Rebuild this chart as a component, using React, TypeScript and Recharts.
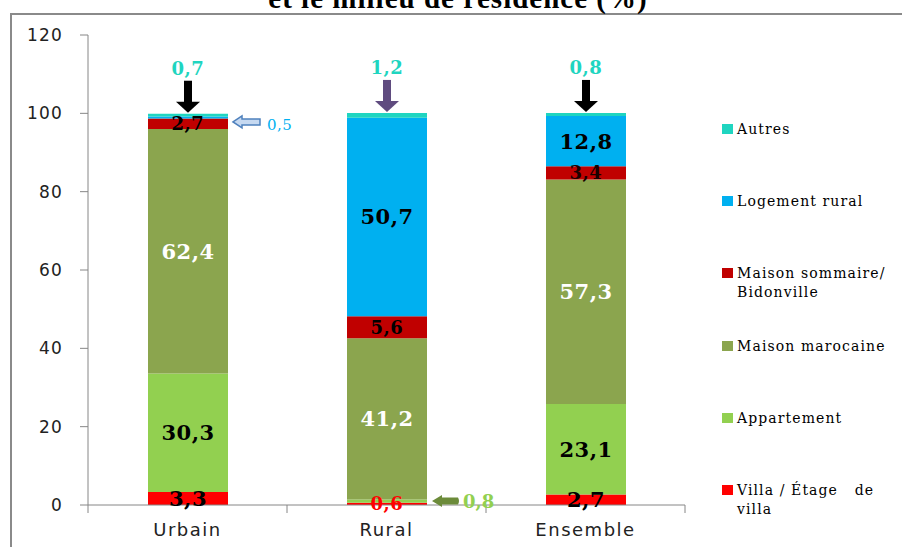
import { BarChart, Bar, XAxis, YAxis, LabelList } from 'recharts';

const categories = ['Urbain', 'Rural', 'Ensemble'];
const villa = [3.3, 0.6, 2.7];
const appartement = [30.3, 0.8, 23.1];
const maisonMarocaine = [62.4, 41.2, 57.3];
const maisonSommaire = [2.7, 5.6, 3.4];
const logementRural = [0.5, 50.7, 12.8];
const autres = [0.7, 1.2, 0.8];
const yTicks = [0, 20, 40, 60, 80, 100, 120];

// bottom to top
const series = [
  { key: 'villa', name: 'Villa / Étage   de\nvilla', values: villa, color: '#FF0000', text: ['#000', '#FF0000', '#000'], size: 21 },
  { key: 'appartement', name: 'Appartement', values: appartement, color: '#92D050', text: ['#000', 'side', '#000'], size: 21 },
  { key: 'marocaine', name: 'Maison marocaine', values: maisonMarocaine, color: '#8BA54E', text: ['#fff', '#fff', '#fff'], size: 21 },
  { key: 'sommaire', name: 'Maison sommaire/\nBidonville', values: maisonSommaire, color: '#C00000', text: ['#000', '#000', '#1a0000'], size: 18 },
  { key: 'rural', name: 'Logement rural', values: logementRural, color: '#00B0F0', text: ['side', '#000', '#000'], size: 21 },
  { key: 'autres', name: 'Autres', values: autres, color: '#1FD5C0', text: ['top', 'top', 'top'], size: 18 },
];

const topArrowColors = ['#000000', '#5F4B7F', '#000000'];

const data = categories.map((category, i) => {
  const row: Record<string, string | number> = { category };
  series.forEach((s) => {
    row[s.key] = s.values[i];
  });
  return row;
});

const W = 902;
const H = 547;
const PLOT_LEFT = 88;
const PLOT_RIGHT = 685;
const band = (PLOT_RIGHT - PLOT_LEFT) / categories.length;

const fmt = (v: number) => String(v).replace('.', ',');
const serif = '"DejaVu Serif", serif';
const sans = '"DejaVu Sans", sans-serif';

function makeLabel(s: (typeof series)[number]) {
  return (props: any) => {
    const vb = props.viewBox ?? props;
    const x = Number(vb.x ?? props.x);
    const y0 = Number(vb.y ?? props.y);
    const h0 = Number(vb.height ?? props.height);
    const w = Number(vb.width ?? props.width);
    const top = Math.min(y0, y0 + h0);
    const h = Math.abs(h0);
    const idx = Number(props.index);
    const mode = s.text[idx];
    const cx = x + w / 2;
    const cy = top + h / 2;
    const label = fmt(s.values[idx]);

    if (mode === 'top') {
      const c = topArrowColors[idx];
      return (
        <g>
          <text x={cx} y={top - 39} textAnchor="middle" fill={s.color} fontFamily={serif} fontWeight="bold" fontSize={s.size} letterSpacing={0.5}>
            {label}
          </text>
          <rect x={cx - 4} y={top - 33} width={8} height={22} fill={c} />
          <polygon points={`${cx - 12},${top - 12} ${cx + 12},${top - 12} ${cx},${top - 1}`} fill={c} />
        </g>
      );
    }

    if (mode === 'side') {
      const x0 = x + w + 5;
      if (s.key === 'rural') {
        const ay = cy + 4.5;
        return (
          <g>
            <path
              d={`M${x0},${ay} L${x0 + 9},${ay - 6} L${x0 + 9},${ay - 3} L${x0 + 27},${ay - 3} L${x0 + 27},${ay + 3} L${x0 + 9},${ay + 3} L${x0 + 9},${ay + 6} Z`}
              fill="#C6D9F1"
              stroke="#4F81BD"
              strokeWidth={1.5}
            />
            <text x={x0 + 34} y={ay + 8} fill="#00B0F0" fontFamily={serif} fontSize={15} letterSpacing={0.5}>
              {label}
            </text>
          </g>
        );
      }
      return (
        <g>
          <path
            d={`M${x0},${cy} L${x0 + 10},${cy - 6} L${x0 + 10},${cy - 3.5} L${x0 + 26},${cy - 3.5} Q${x0 + 28},${cy} ${x0 + 26},${cy + 3.5} L${x0 + 10},${cy + 3.5} L${x0 + 10},${cy + 6} Z`}
            fill="#6C8B3A"
          />
          <text x={x0 + 31} y={cy + 6.5} fill={s.color} fontFamily={serif} fontWeight="bold" fontSize={18}>
            {label}
          </text>
        </g>
      );
    }

    return (
      <text
        x={cx}
        y={cy}
        textAnchor="middle"
        dominantBaseline="central"
        fill={mode}
        fontFamily={serif}
        fontWeight="bold"
        fontSize={s.key === 'villa' && idx === 1 ? 18 : s.size}
        letterSpacing={0.5}
      >
        {label}
      </text>
    );
  };
}

function CategoryTick(props: any) {
  const { x, y, payload, index } = props;
  const left = x - band / 2;
  return (
    <g>
      <line x1={left} y1={y} x2={left} y2={y + 8} stroke="#868686" />
      {index === categories.length - 1 && (
        <line x1={x + band / 2} y1={y} x2={x + band / 2} y2={y + 8} stroke="#868686" />
      )}
      <text x={x} y={y + 31} textAnchor="middle" fill="#222" fontFamily={sans} fontSize={18} letterSpacing={1.5}>
        {payload.value}
      </text>
    </g>
  );
}

function Legend() {
  const items = [...series].reverse();
  return (
    <>
      {items.map((s, i) => (
        <div
          key={s.key}
          style={{
            position: 'absolute',
            left: 722,
            top: 120 + i * 72.2,
            fontFamily: serif,
            fontSize: 14,
            lineHeight: '19px',
            letterSpacing: 1.1,
            color: '#000',
            whiteSpace: 'pre',
          }}
        >
          <span
            style={{
              position: 'absolute',
              left: 0,
              top: 4,
              width: 11,
              height: 10,
              background: s.color,
            }}
          />
          <div style={{ marginLeft: 15 }}>{s.name}</div>
        </div>
      ))}
    </>
  );
}

export default function App() {
  return (
    <div
      style={{
        position: 'absolute',
        left: 0,
        top: 0,
        width: W,
        height: H,
        overflow: 'hidden',
        background: '#fff',
      }}
    >
      <div
        style={{
          position: 'absolute',
          left: 10,
          top: 13,
          width: 1000,
          height: 1000,
          border: '2px solid #8a8a8a',
        }}
      />
      <div
        style={{
          position: 'absolute',
          left: 0,
          width: 916,
          top: -16,
          textAlign: 'center',
          fontFamily: '"Liberation Serif", serif',
          fontWeight: 'bold',
          fontSize: 29,
          lineHeight: '29px',
          letterSpacing: 1,
          whiteSpace: 'nowrap',
        }}
      >
        et le milieu de résidence (%)
      </div>
      <div style={{ position: 'absolute', left: 0, top: 0 }}>
        <BarChart width={W} height={H} data={data} margin={{ top: 35, right: W - PLOT_RIGHT, bottom: 0, left: 0 }}>
          <XAxis
            dataKey="category"
            height={42}
            tickLine={false}
            tickSize={0}
            tickMargin={0}
            axisLine={{ stroke: '#868686' }}
            tick={<CategoryTick />}
            interval={0}
          />
          <YAxis
            width={PLOT_LEFT}
            domain={[0, 120]}
            ticks={yTicks}
            interval={0}
            tickSize={8}
            tickMargin={17}
            axisLine={{ stroke: '#868686' }}
            tickLine={{ stroke: '#868686' }}
            tick={{ fill: '#222', fontFamily: sans, fontSize: 17, letterSpacing: 1.2 }}
          />
          {series.map((s) => (
            <Bar key={s.key} dataKey={s.key} name={s.name} stackId="a" fill={s.color} barSize={80} isAnimationActive={false}>
              <LabelList dataKey={s.key} content={makeLabel(s)} />
            </Bar>
          ))}
        </BarChart>
      </div>
      <Legend />
    </div>
  );
}
